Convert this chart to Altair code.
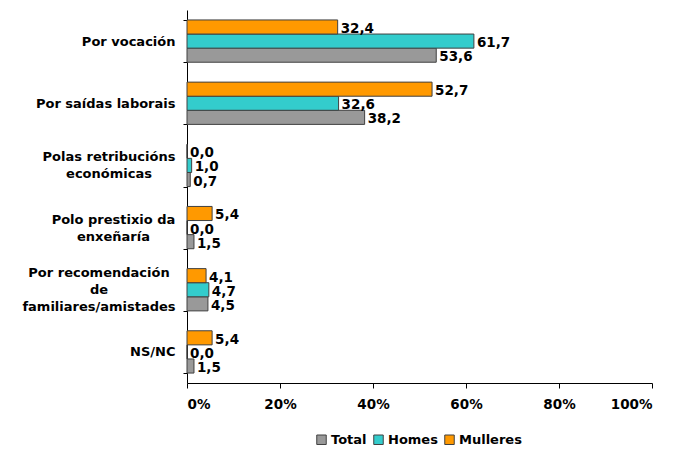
import altair as alt
import pandas as pd

categories = [
    "Por vocación",
    "Por saídas laborais",
    "Polas retribucións|económicas",
    "Polo prestixio da|enxeñaría",
    "Por recomendación|de|familiares/amistades",
    "NS/NC",
]
series = ["Total", "Homes", "Mulleres"]
total = [53.6, 38.2, 0.7, 1.5, 4.5, 1.5]
homes = [61.7, 32.6, 1.0, 0.0, 4.7, 0.0]
mulleres = [32.4, 52.7, 0.0, 5.4, 4.1, 5.4]
colors = ["#999999", "#33CCCC", "#FF9900"]
x_ticks = [0, 20, 40, 60, 80, 100]

rows = []
for i, c in enumerate(categories):
    for s, vals in zip(series, [total, homes, mulleres]):
        rows.append({"cat": c, "serie": s, "value": vals[i]})
df = pd.DataFrame(rows)

FONT = "DejaVu Sans"
LH = 17


def is_cat(i):
    return "datum.value == '%s'" % categories[i]


y_enc = alt.Y(
    "cat:N",
    sort=categories,
    title=None,
    scale=alt.Scale(paddingInner=0.32, paddingOuter=0.16),
    axis=alt.Axis(
        labelExpr="split(datum.label, '|')",
        labelFont=FONT,
        labelFontWeight="bold",
        labelFontSize=13,
        labelColor="#000000",
        labelLineHeight=LH,
        labelLimit=200,
        labelOffset={
            "condition": [
                {"test": "length(split(datum.label, '|')) == 3", "value": -LH},
                {"test": "length(split(datum.label, '|')) == 2", "value": -LH / 2},
            ],
            "value": 0,
        },
        labelAlign={
            "condition": {"test": "indexof(datum.label, '|') >= 0", "value": "center"},
            "value": "right",
        },
        labelPadding={
            "condition": [
                {"test": is_cat(2), "value": 74.5},
                {"test": is_cat(3), "value": 70},
                {"test": is_cat(4), "value": 84.5},
            ],
            "value": 8,
        },
        tickBand="extent",
        tickSize=4,
        tickColor="#000000",
        domainColor="#000000",
    ),
)
yoff = alt.YOffset("serie:N", sort=["Mulleres", "Homes", "Total"])
x_enc = alt.X(
    "value:Q",
    title=None,
    scale=alt.Scale(domain=[0, 100]),
    axis=alt.Axis(
        values=x_ticks,
        labelExpr="datum.value + '%'",
        grid=False,
        labelFont=FONT,
        labelFontWeight="bold",
        labelFontSize=13.5,
        labelColor="#000000",
        labelPadding=9,
        tickSize=5,
        tickColor="#000000",
        domainColor="#000000",
    ),
)

bars = alt.Chart(df).mark_bar(stroke="#404040", strokeWidth=1).encode(
    y=y_enc,
    yOffset=yoff,
    x=x_enc,
    color=alt.Color(
        "serie:N",
        sort=series,
        scale=alt.Scale(domain=series, range=colors),
        legend=alt.Legend(
            title=None,
            orient="none",
            direction="horizontal",
            legendX=128,
            legendY=423,
            symbolType="square",
            symbolSize=90,
            symbolStrokeColor="#404040",
            symbolStrokeWidth=1,
            labelFont=FONT,
            labelFontWeight="bold",
            labelFontSize=13,
            labelColor="#000000",
            columnPadding=4,
            labelOffset=3,
        ),
    ),
)

labels = alt.Chart(df).transform_calculate(
    lbl="replace(format(datum.value, '.1f'), '.', ',')"
).mark_text(
    align="left", baseline="middle", dx=3, dy=2,
    font=FONT, fontWeight="bold", fontSize=13.5, color="#000000"
).encode(
    y=alt.Y("cat:N", sort=categories),
    yOffset=yoff,
    x=alt.X("value:Q"),
    text="lbl:N",
)

chart = alt.layer(bars, labels).properties(
    width=465,
    height=373,
    autosize=alt.AutoSizeParams(type="none"),
    padding={"left": 179, "top": 2, "right": 17, "bottom": 75},
    background="#ffffff",
).configure_view(stroke=None)

chart.save("out.html", embed_options={"renderer": "svg", "actions": False})
